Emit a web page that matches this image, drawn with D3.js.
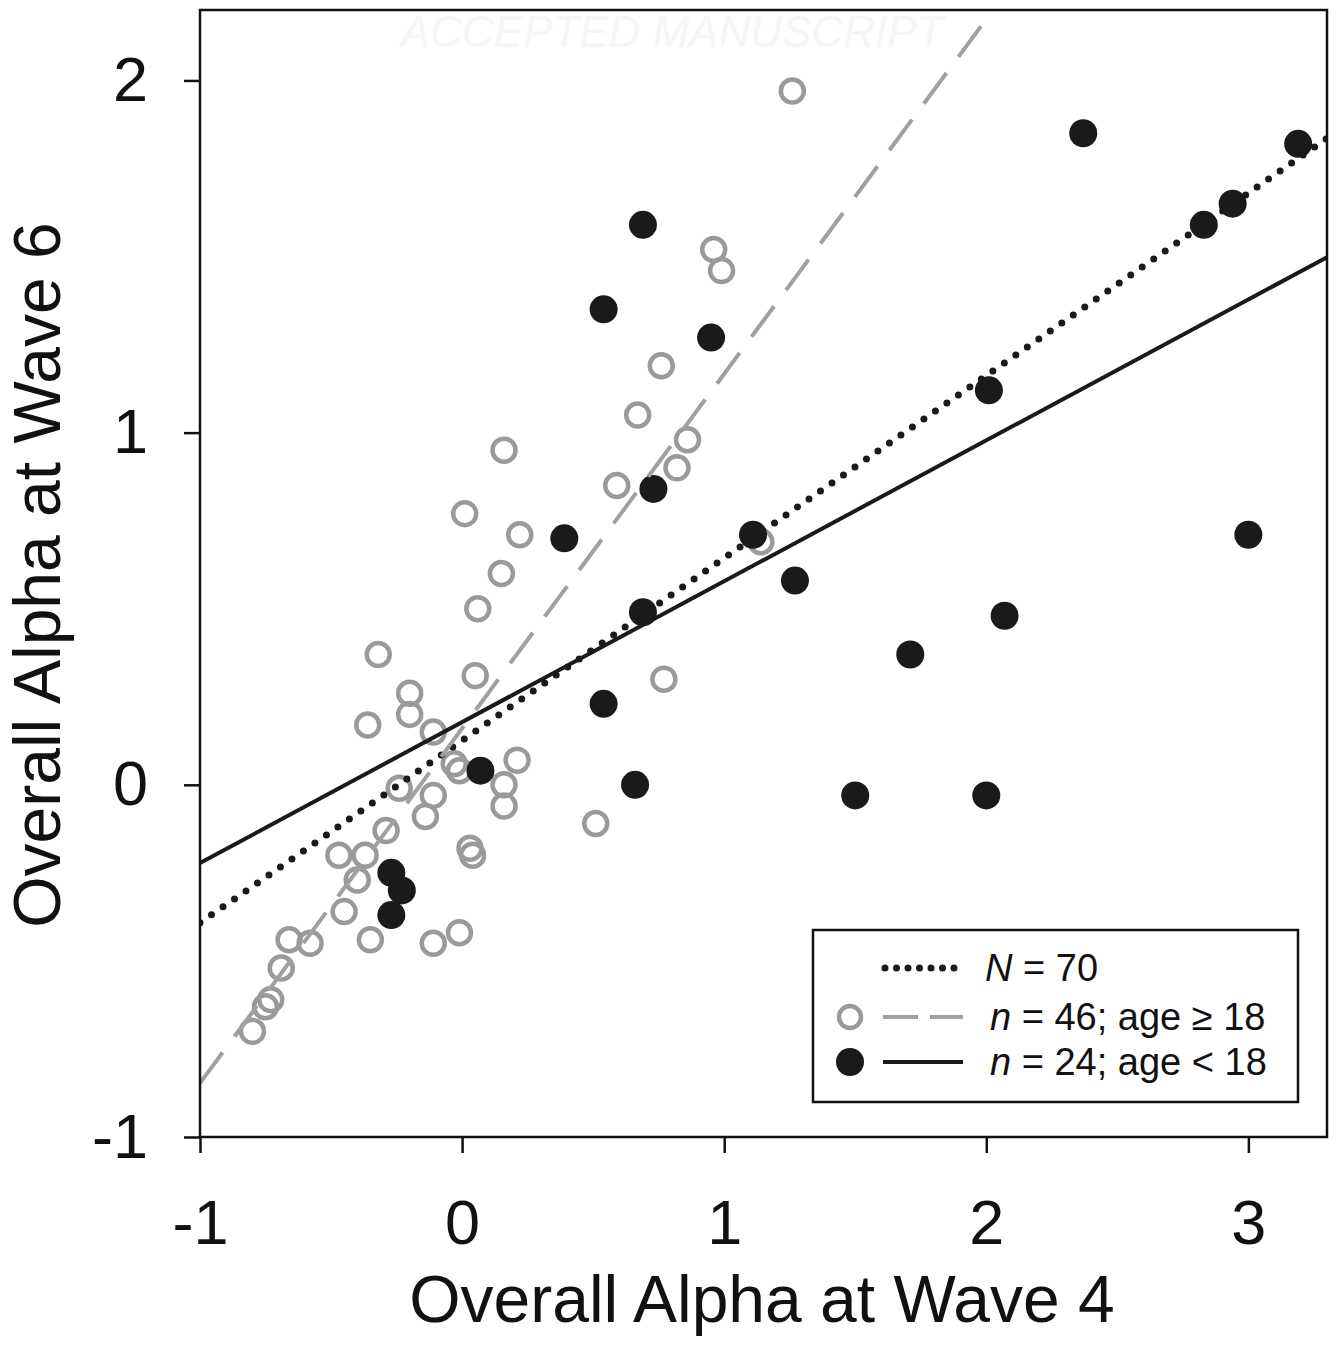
<!DOCTYPE html>
<html>
<head>
<meta charset="utf-8">
<script src="https://cdn.jsdelivr.net/npm/d3@7"></script>
<style>
  body { margin: 0; background: #fff; }
  svg { display: block; font-family: "Liberation Sans", Arial, sans-serif; }
  .frame { fill: none; stroke: #111; stroke-width: 2.5; }
  .axis path, .axis line { stroke: #111; stroke-width: 2.5; }
  .axis text { fill: #111; font-size: 63px; }
  .axis .domain { display: none; }
  .axis-title { fill: #111; font-size: 66px; }
  .legend-text { fill: #111; font-size: 38px; }
</style>
</head>
<body>
<div id="wrapper"></div>
<script>
// adults (age >= 18), open grey circles
const adultX = [1.26, 0.96, 0.99, 0.76, 0.67, 0.86, 0.16, 0.82, 0.59, 0.01,
  0.22, 1.14, 0.15, 0.06, -0.32, 0.05, 0.77, -0.20, -0.20, -0.36,
  -0.11, -0.03, -0.01, 0.21, 0.16, -0.24, -0.11, 0.16, -0.14, 0.51,
  -0.29, 0.03, 0.04, -0.47, -0.37, -0.40, -0.45, -0.35, -0.11, -0.01,
  -0.66, -0.58, -0.69, -0.73, -0.75, -0.80]
const adultY = [1.97, 1.52, 1.46, 1.19, 1.05, 0.98, 0.95, 0.90, 0.85, 0.77,
  0.71, 0.69, 0.60, 0.50, 0.37, 0.31, 0.30, 0.26, 0.20, 0.17,
  0.15, 0.06, 0.04, 0.07, 0.00, -0.01, -0.03, -0.06, -0.09, -0.11,
  -0.13, -0.18, -0.20, -0.20, -0.20, -0.27, -0.36, -0.44, -0.45, -0.42,
  -0.44, -0.45, -0.52, -0.61, -0.63, -0.70]

// minors (age < 18), filled black circles
const minorX = [2.37, 3.19, 2.94, 2.83, 0.69, 0.54, 0.95, 2.01, 0.73, 0.39,
  1.11, 3.00, 1.27, 0.69, 2.07, 1.71, 0.54, 0.07, 0.66, 1.50,
  2.00, -0.27, -0.23, -0.27]
const minorY = [1.85, 1.82, 1.65, 1.59, 1.59, 1.35, 1.27, 1.12, 0.84, 0.70,
  0.71, 0.71, 0.58, 0.49, 0.48, 0.37, 0.23, 0.04, 0.00, -0.03,
  -0.03, -0.25, -0.30, -0.37]

// regression lines: all, adults, minors
const fitNames = ["all", "adult", "minor"]
const fitIntercepts = [0.126, 0.16, 0.178]
const fitSlopes = [0.518, 1.007, 0.40]

const xTicks = [-1, 0, 1, 2, 3]
const yTicks = [-1, 0, 1, 2]

function drawScatter() {

  // 1. Access data
  const adults = adultX.map((x, i) => ({ x, y: adultY[i] }))
  const minors = minorX.map((x, i) => ({ x, y: minorY[i] }))
  const fits = fitNames.map((name, i) => ({
    name, a: fitIntercepts[i], b: fitSlopes[i]
  }))

  // 2. Create chart dimensions
  let dimensions = {
    width: 1337,
    height: 1345,
    margin: { top: 10, right: 10, bottom: 208, left: 200 },
  }
  dimensions.boundedWidth = dimensions.width
    - dimensions.margin.left - dimensions.margin.right
  dimensions.boundedHeight = dimensions.height
    - dimensions.margin.top - dimensions.margin.bottom

  // 3. Draw canvas
  const wrapper = d3.select("#wrapper")
    .append("svg")
      .attr("width", dimensions.width)
      .attr("height", dimensions.height)

  // faint watermark
  wrapper.append("text")
      .attr("x", 672)
      .attr("y", 47)
      .attr("text-anchor", "middle")
      .style("font-size", "44px")
      .style("font-style", "italic")
      .style("fill", "#f6f6f6")
      .text("ACCEPTED MANUSCRIPT")

  const bounds = wrapper.append("g")
      .attr("transform", `translate(${dimensions.margin.left},${dimensions.margin.top})`)

  bounds.append("clipPath")
      .attr("id", "plot-clip")
    .append("rect")
      .attr("width", dimensions.boundedWidth)
      .attr("height", dimensions.boundedHeight)

  // 4. Create scales
  const xScale = d3.scaleLinear()
    .domain([-1, 3.3])
    .range([0, dimensions.boundedWidth])

  const yScale = d3.scaleLinear()
    .domain([-1, 2.2])
    .range([dimensions.boundedHeight, 0])

  // 5. Draw data
  const plot = bounds.append("g").attr("clip-path", "url(#plot-clip)")

  plot.append("g").selectAll("circle")
    .data(adults)
    .join("circle")
      .attr("cx", d => xScale(d.x))
      .attr("cy", d => yScale(d.y))
      .attr("r", 11.5)
      .attr("fill", "none")
      .attr("stroke", "#9a9a9a")
      .attr("stroke-width", 4.5)

  plot.append("g").selectAll("circle")
    .data(minors)
    .join("circle")
      .attr("cx", d => xScale(d.x))
      .attr("cy", d => yScale(d.y))
      .attr("r", 14)
      .attr("fill", "#1a1a1a")

  const lineStyles = {
    all: { stroke: "#1a1a1a", width: 7, dash: "0 14", cap: "round" },
    adult: { stroke: "#a0a0a0", width: 4, dash: "38 20", cap: "butt" },
    minor: { stroke: "#1a1a1a", width: 4, dash: null, cap: "butt" },
  }
  const [x0, x1] = xScale.domain()

  plot.append("g").selectAll("line")
    .data(fits)
    .join("line")
      .attr("x1", xScale(x0))
      .attr("y1", d => yScale(d.a + d.b * x0))
      .attr("x2", xScale(x1))
      .attr("y2", d => yScale(d.a + d.b * x1))
      .attr("stroke", d => lineStyles[d.name].stroke)
      .attr("stroke-width", d => lineStyles[d.name].width)
      .attr("stroke-dasharray", d => lineStyles[d.name].dash)
      .attr("stroke-linecap", d => lineStyles[d.name].cap)

  // 6. Draw peripherals
  bounds.append("rect")
      .attr("class", "frame")
      .attr("width", dimensions.boundedWidth)
      .attr("height", dimensions.boundedHeight)

  const fmt = d => String(d)

  bounds.append("g")
      .attr("class", "axis")
      .call(d3.axisLeft(yScale).tickValues(yTicks).tickFormat(fmt)
        .tickSize(16).tickPadding(36))

  bounds.append("g")
      .attr("class", "axis")
      .attr("transform", `translate(0,${dimensions.boundedHeight})`)
      .call(d3.axisBottom(xScale).tickValues(xTicks).tickFormat(fmt)
        .tickSize(16).tickPadding(46))

  wrapper.append("text")
      .attr("class", "axis-title")
      .attr("x", 762)
      .attr("y", 1322)
      .attr("text-anchor", "middle")
      .text("Overall Alpha at Wave 4")

  wrapper.append("text")
      .attr("class", "axis-title")
      .attr("transform", "translate(60,575) rotate(-90)")
      .attr("text-anchor", "middle")
      .text("Overall Alpha at Wave 6")

  // legend
  const legend = wrapper.append("g")
      .attr("transform", "translate(813,930)")

  legend.append("rect")
      .attr("width", 485)
      .attr("height", 172)
      .attr("fill", "#fff")
      .attr("stroke", "#111")
      .attr("stroke-width", 2.5)

  const rowY = [38, 87, 132]
  const rows = legend.selectAll(".row")
    .data(fits)
    .join("g")
      .attr("class", "row")
      .attr("transform", (d, i) => `translate(0,${rowY[i]})`)

  rows.append("line")
      .attr("x1", d => d.name === "all" ? 72 : 70)
      .attr("x2", d => d.name === "all" ? 142 : 150)
      .attr("stroke", d => lineStyles[d.name].stroke)
      .attr("stroke-width", d => d.name === "all" ? 7 : 4)
      .attr("stroke-dasharray", d => d.name === "all" ? "0 11.5" : (d.name === "adult" ? "35 12" : null))
      .attr("stroke-linecap", d => lineStyles[d.name].cap)

  rows.filter(d => d.name === "adult").append("circle")
      .attr("cx", 37).attr("r", 11)
      .attr("fill", "none").attr("stroke", "#9a9a9a").attr("stroke-width", 4.5)

  rows.filter(d => d.name === "minor").append("circle")
      .attr("cx", 37).attr("r", 14).attr("fill", "#1a1a1a")

  const legendText = [
    [["N", true], [" = 70", false]],
    [["n", true], [" = 46; age \u2265 18", false]],
    [["n", true], [" = 24; age < 18", false]],
  ]
  rows.append("text")
      .attr("class", "legend-text")
      .attr("x", (d, i) => i === 0 ? 172 : 177)
      .attr("y", 13)
    .selectAll("tspan")
    .data((d, i) => legendText[i])
    .join("tspan")
      .style("font-style", d => d[1] ? "italic" : "normal")
      .style("white-space", "pre")
      .text(d => d[0])
}
drawScatter()
</script>
</body>
</html>
